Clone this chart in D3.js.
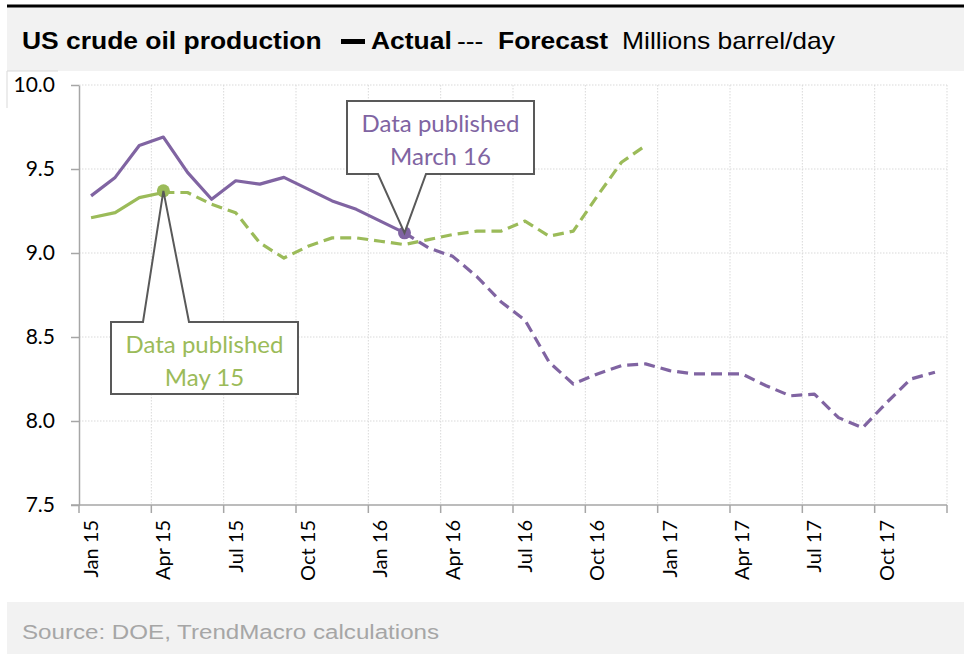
<!DOCTYPE html>
<html>
<head>
<meta charset="utf-8">
<script src="https://d3js.org/d3.v7.min.js"></script>
<style>
  body { margin: 0; background: #fff; }
  svg text { font-family: Lato, "Open Sans", sans-serif; }
</style>
</head>
<body>
<script>

// month categories, Jan 15 .. Dec 17
var months = ["Jan 15","Feb 15","Mar 15","Apr 15","May 15","Jun 15","Jul 15","Aug 15","Sep 15","Oct 15","Nov 15","Dec 15",
              "Jan 16","Feb 16","Mar 16","Apr 16","May 16","Jun 16","Jul 16","Aug 16","Sep 16","Oct 16","Nov 16","Dec 16",
              "Jan 17","Feb 17","Mar 17","Apr 17","May 17","Jun 17","Jul 17","Aug 17","Sep 17","Oct 17","Nov 17","Dec 17"];
var tickMonths = ["Jan 15","Apr 15","Jul 15","Oct 15","Jan 16","Apr 16","Jul 16","Oct 16","Jan 17","Apr 17","Jul 17","Oct 17"];
var yTicks = [7.5, 8.0, 8.5, 9.0, 9.5, 10.0];

// vintage published March 16 (purple)
var actualMar16Start = "Jan 15";
var actualMar16 = [9.34, 9.45, 9.64, 9.69, 9.48, 9.32, 9.43, 9.41, 9.45, 9.38, 9.31, 9.26, 9.19, 9.12];
var forecastMar16Start = "Feb 16";
var forecastMar16 = [9.12, 9.03, 8.98, 8.86, 8.71, 8.60, 8.35, 8.22, 8.28, 8.33, 8.34,
                     8.30, 8.28, 8.28, 8.28, 8.21, 8.15, 8.16, 8.02, 7.96, 8.11, 8.25, 8.29];

// vintage published May 15 (green)
var actualMay15Start = "Jan 15";
var actualMay15 = [9.21, 9.24, 9.33, 9.36];
var forecastMay15Start = "Apr 15";
var forecastMay15 = [9.36, 9.36, 9.29, 9.24, 9.06, 8.97, 9.04, 9.09, 9.09, 9.07, 9.05, 9.08,
                     9.11, 9.13, 9.13, 9.19, 9.10, 9.13, 9.34, 9.54, 9.64];

var purple = "#8064a2", green = "#9bbb59", axisGrey = "#a6a6a6";

var width = 964, height = 654;
var svg = d3.select("body").append("svg")
            .attr("width", width)
            .attr("height", height);

// header / footer bands
svg.append("rect").attr("x", 7).attr("y", 7).attr("width", width - 7).attr("height", 64).attr("fill", "#f2f2f2");
svg.append("rect").attr("x", 7).attr("y", 4.5).attr("width", width - 7).attr("height", 3).attr("fill", "#000");
svg.append("rect").attr("x", 7).attr("y", 602).attr("width", width - 7).attr("height", 52).attr("fill", "#f2f2f2");

// the original text is a bit wider than Liberation Sans, so stretch it
var sx = 1.15;
var title = svg.append("text")
               .attr("transform", "scale(" + sx + ",1)")
               .attr("y", 49)
               .style("font-family", "'Liberation Sans', Arial, sans-serif")
               .style("font-size", "23px")
               .attr("fill", "#000");
title.append("tspan").attr("x", 22 / sx).attr("font-weight", "bold").text("US crude oil production");
title.append("tspan").attr("x", 371 / sx).attr("font-weight", "bold").text("Actual");
title.append("tspan").attr("x", 457 / sx).text("---");
title.append("tspan").attr("x", 498 / sx).attr("font-weight", "bold").text("Forecast");
title.append("tspan").attr("x", 622 / sx).text("Millions barrel/day");
// thick legend dash for "Actual"
svg.append("rect").attr("x", 341).attr("y", 39).attr("width", 24).attr("height", 5).attr("fill", "#000");

svg.append("text")
   .attr("transform", "scale(" + sx + ",1)")
   .attr("x", 22 / sx).attr("y", 639)
   .style("font-family", "'Liberation Sans', Arial, sans-serif")
   .style("font-size", "21px")
   .attr("fill", "#a6a6a6")
   .text("Source: DOE, TrendMacro calculations");

// faint border left from the chart frame
svg.append("path").attr("d", "M7,108V71H58").attr("fill", "none").attr("stroke", "#d9d9d9").attr("stroke-width", 1);

// scales
var plot = {left: 79, right: 947, top: 85, bottom: 505};
var x = d3.scaleBand().domain(months).range([plot.left, plot.right]).padding(0);
var y = d3.scaleLinear().domain([7.5, 10]).range([plot.bottom, plot.top]);
var cx = function(m) { return x(m) + x.bandwidth() / 2; };

// gridlines
var tickX = tickMonths.map(function(m) { return x(m); }).concat([plot.right]);
svg.append("g").selectAll("line").data(tickX.slice(1)).enter().append("line")
   .attr("x1", function(d) { return d; }).attr("x2", function(d) { return d; })
   .attr("y1", plot.top).attr("y2", plot.bottom)
   .attr("stroke", "#d9d9d9").attr("stroke-dasharray", "1.5,1.5");
svg.append("g").selectAll("line").data(yTicks.slice(1)).enter().append("line")
   .attr("x1", plot.left).attr("x2", plot.right)
   .attr("y1", function(d) { return y(d); }).attr("y2", function(d) { return y(d); })
   .attr("stroke", "#d9d9d9").attr("stroke-dasharray", "1.5,1.5");

// y axis
var yAxis = d3.axisLeft(y).tickValues(yTicks).tickSize(8).tickSizeOuter(0).tickPadding(16)
              .tickFormat(d3.format(".1f"));
var gy = svg.append("g").attr("transform", "translate(" + plot.left + ",0)").call(yAxis);
gy.select(".domain").attr("stroke", axisGrey).attr("stroke-width", 1.5);
gy.selectAll(".tick line").attr("stroke", axisGrey).attr("stroke-width", 1.5);
gy.selectAll(".tick text").style("font-family", "Lato, sans-serif").style("font-size", "21px").attr("fill", "#000");

// x axis (category axis, ticks between categories)
var gx = svg.append("g");
gx.append("line").attr("x1", plot.left - 8).attr("x2", plot.right)
  .attr("y1", plot.bottom).attr("y2", plot.bottom)
  .attr("stroke", axisGrey).attr("stroke-width", 1.5);
gx.selectAll(".xt").data(tickX).enter().append("line").attr("class", "xt")
  .attr("x1", function(d) { return d; }).attr("x2", function(d) { return d; })
  .attr("y1", plot.bottom).attr("y2", plot.bottom + 8)
  .attr("stroke", axisGrey).attr("stroke-width", 1.5);
gx.selectAll("text").data(tickMonths).enter().append("text")
  .attr("transform", function(d) { return "translate(" + (cx(d) + 7) + "," + (plot.bottom + 15) + ") rotate(-90)"; })
  .attr("text-anchor", "end")
  .style("font-size", "20px")
  .attr("fill", "#000")
  .text(function(d) { return d; });

// series
function points(start, vals) {
  var i0 = months.indexOf(start);
  return vals.map(function(v, i) { return {m: months[i0 + i], v: v}; });
}
var line = d3.line().x(function(d) { return cx(d.m); }).y(function(d) { return y(d.v); });

var series = [
  {pts: points(forecastMay15Start, forecastMay15), color: green, dash: "11,6"},
  {pts: points(actualMay15Start, actualMay15), color: green, dash: null},
  {pts: points(forecastMar16Start, forecastMar16), color: purple, dash: "11,6"},
  {pts: points(actualMar16Start, actualMar16), color: purple, dash: null}
];
svg.append("g").selectAll("path").data(series).enter().append("path")
   .attr("d", function(d) { return line(d.pts); })
   .attr("fill", "none")
   .attr("stroke", function(d) { return d.color; })
   .attr("stroke-width", 3.2)
   .attr("stroke-linejoin", "round")
   .attr("stroke-dasharray", function(d) { return d.dash; });

// publication markers
var markers = [
  {m: "Apr 15", v: 9.37, color: green},
  {m: "Feb 16", v: 9.12, color: purple}
];
svg.append("g").selectAll("circle").data(markers).enter().append("circle")
   .attr("cx", function(d) { return cx(d.m); })
   .attr("cy", function(d) { return y(d.v); })
   .attr("r", 6.5)
   .attr("fill", function(d) { return d.color; });

// callouts
function callout(box, base, tip, below, color, lines) {
  var d;
  if (below) {
    d = "M" + box.x0 + "," + box.y0 + "H" + box.x1 + "V" + box.y1 + "H" + base[1] +
        "L" + tip[0] + "," + tip[1] + "L" + base[0] + "," + box.y1 + "H" + box.x0 + "Z";
  } else {
    d = "M" + box.x0 + "," + box.y0 + "H" + base[0] + "L" + tip[0] + "," + tip[1] +
        "L" + base[1] + "," + box.y0 + "H" + box.x1 + "V" + box.y1 + "H" + box.x0 + "Z";
  }
  svg.append("path").attr("d", d).attr("fill", "#fff").attr("stroke", "#595959").attr("stroke-width", 2);
  var t = svg.append("text").attr("text-anchor", "middle").style("font-size", "24px").attr("fill", color);
  lines.forEach(function(s, i) {
    t.append("tspan").attr("x", (box.x0 + box.x1) / 2).attr("y", box.y0 + 31 + i * 33).text(s);
  });
}
callout({x0: 347, x1: 534, y0: 101, y1: 174}, [378, 426], [cx("Feb 16"), y(9.12)], true, purple,
        ["Data published", "March 16"]);
callout({x0: 111, x1: 298, y0: 322, y1: 394}, [143, 189], [cx("Apr 15"), y(9.37)], false, green,
        ["Data published", "May 15"]);

</script>
</body>
</html>
